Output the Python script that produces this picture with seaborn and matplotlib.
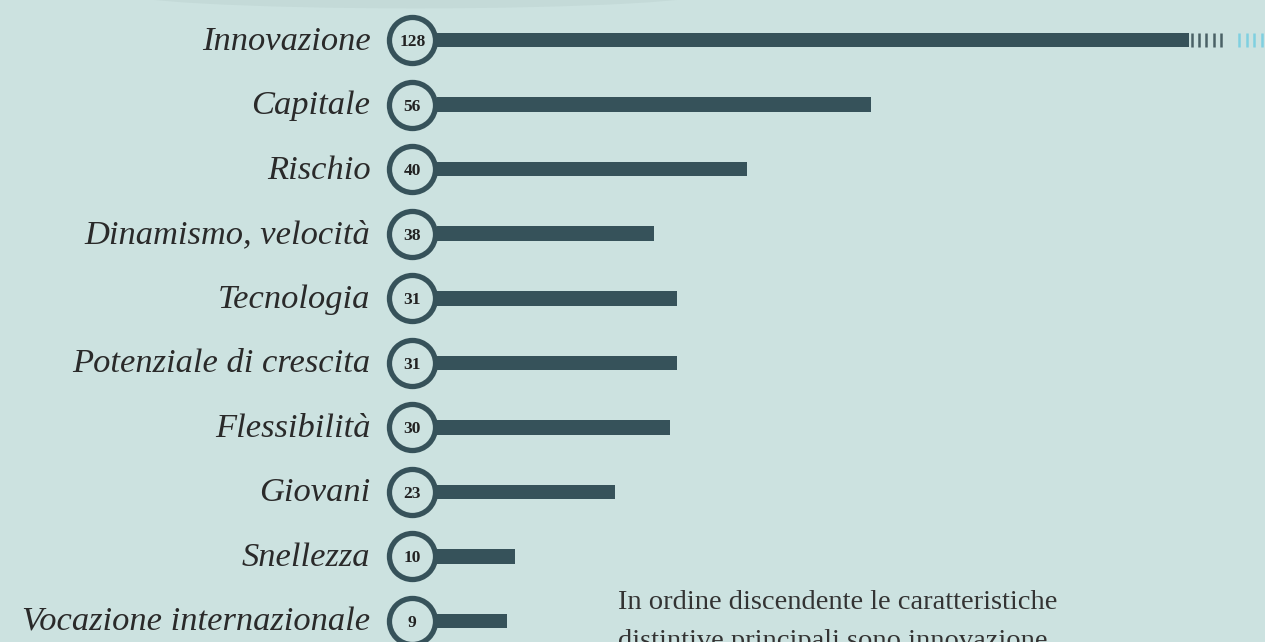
import matplotlib
matplotlib.use("Agg")
import matplotlib.pyplot as plt
import seaborn as sns
import pandas as pd
import numpy as np
from matplotlib.patches import Ellipse

categories = ["Innovazione", "Capitale", "Rischio", "Dinamismo, velocità", "Tecnologia",
              "Potenziale di crescita", "Flessibilità", "Giovani", "Snellezza",
              "Vocazione internazionale"]
counts = [128, 56, 40, 38, 31, 31, 30, 23, 10, 9]
# bar lengths as drawn in the picture (first bar is cut by an axis break)
drawn_lengths = [128, 56, 40, 28, 31, 31, 30, 23, 10, 9]
axis_break = 97
note_lines = ["In ordine discendente le caratteristiche",
              "distintive principali sono innovazione"]

BG = "#cce2e0"
DARK = "#36525a"
LIGHT = "#7fd0e0"

sns.set_theme(style="white")
plt.rcParams['font.family'] = ['Liberation Serif', 'DejaVu Serif']

fig = plt.figure(figsize=(12.65, 6.42), dpi=100, facecolor=BG)
ax = fig.add_axes([0, 0, 1, 1])
ax.set_facecolor(BG)

df = pd.DataFrame({"cat": categories,
                   "len": [min(v, axis_break) for v in drawn_lengths]})
sns.barplot(data=df, x="len", y="cat", orient="h", color=DARK, width=0.225,
            saturation=1, linewidth=0, edgecolor=DARK, ax=ax, zorder=2)

ypos = np.arange(len(categories))
circ_x = -3.2
ax.scatter([circ_x] * len(categories), ypos, s=1100, facecolor=BG, edgecolor=DARK,
           linewidth=3.8, zorder=4)
for y, c, cat in zip(ypos, counts, categories):
    ax.text(circ_x, y + 0.03, str(c), ha="center", va="center", fontsize=12.5,
            fontweight="bold", color="#222222", zorder=5)
    ax.text(-8.6, y + 0.02, cat, ha="right", va="center", fontsize=24.8, style="italic",
            color="#2a2a2a")

# axis-break marks on the truncated bar
for i, c in zip(range(len(counts)), counts):
    if c > axis_break:
        dark_ticks = axis_break + 0.35 + np.arange(5) * 0.95
        light_ticks = axis_break + 6.45 + np.arange(4) * 0.98
        ax.vlines(dark_ticks, i - 0.11, i + 0.11, color="#4a6166", lw=1.8, zorder=3)
        ax.vlines(light_ticks, i - 0.11, i + 0.11, color=LIGHT, lw=1.8, zorder=3)

# subtle arc at the top
ax.add_patch(Ellipse((-2.8, -0.75), 78, 0.52, facecolor="#c4dad8", edgecolor="none", zorder=0))

ax.text(23.3, 8.72, note_lines[0], ha="left", va="center", fontsize=20.5, color="#333333")
ax.text(23.3, 9.32, note_lines[1], ha="left", va="center", fontsize=20.5, color="#333333")

ax.set_xlim(-56.4, 106.8)
ax.set_ylim(9.325, -0.62)
ax.set_axis_off()

fig.savefig("out.png", dpi=100, facecolor=BG)
